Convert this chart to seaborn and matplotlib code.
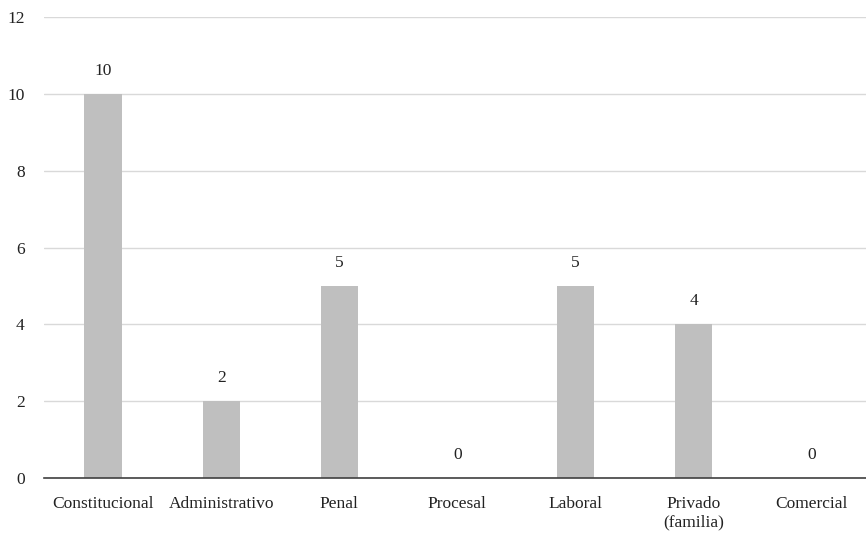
import matplotlib
matplotlib.use("Agg")
import matplotlib.pyplot as plt
import seaborn as sns
import pandas as pd

categories = ["Constitucional", "Administrativo", "Penal", "Procesal",
              "Laboral", "Privado\n(familia)", "Comercial"]
values = [10, 2, 5, 0, 5, 4, 0]
y_ticks = [0, 2, 4, 6, 8, 10, 12]

sns.set_theme(style="white")
plt.rcParams["font.family"] = ["Liberation Serif", "DejaVu Serif"]

df = pd.DataFrame({"area": categories, "n": values})

fig = plt.figure(figsize=(8.66, 5.38), dpi=100)
ax = fig.add_axes([44 / 866, 60 / 538, 1 - 44 / 866, 461 / 538])

sns.barplot(data=df, x="area", y="n", color="#bfbfbf", saturation=1,
            width=0.315, linewidth=0, edgecolor="none", ax=ax, zorder=3)

ax.set_ylim(0, 12)
ax.set_xlim(-0.5, 6.46)
ax.set_yticks(y_ticks)
ax.set_yticklabels([str(t) for t in y_ticks])
ax.yaxis.grid(True, color="#d9d9d9", linewidth=1, zorder=0)
ax.xaxis.grid(False)
for side in ("left", "right", "top"):
    ax.spines[side].set_visible(False)
ax.spines["bottom"].set_color("#404040")
ax.spines["bottom"].set_linewidth(1.2)
ax.spines["bottom"].set_zorder(4)
ax.tick_params(axis="both", length=0, labelsize=12.5, colors="#222222")
ax.tick_params(axis="y", pad=14)
ax.tick_params(axis="x", pad=13)
ax.set_xlabel("")
ax.set_ylabel("")

for i, v in enumerate(values):
    ax.annotate(str(v), (i, v), xytext=(0, 11), textcoords="offset points",
                ha="center", va="bottom", fontsize=12.5, color="#222222")

fig.savefig("out.png", dpi=100)
